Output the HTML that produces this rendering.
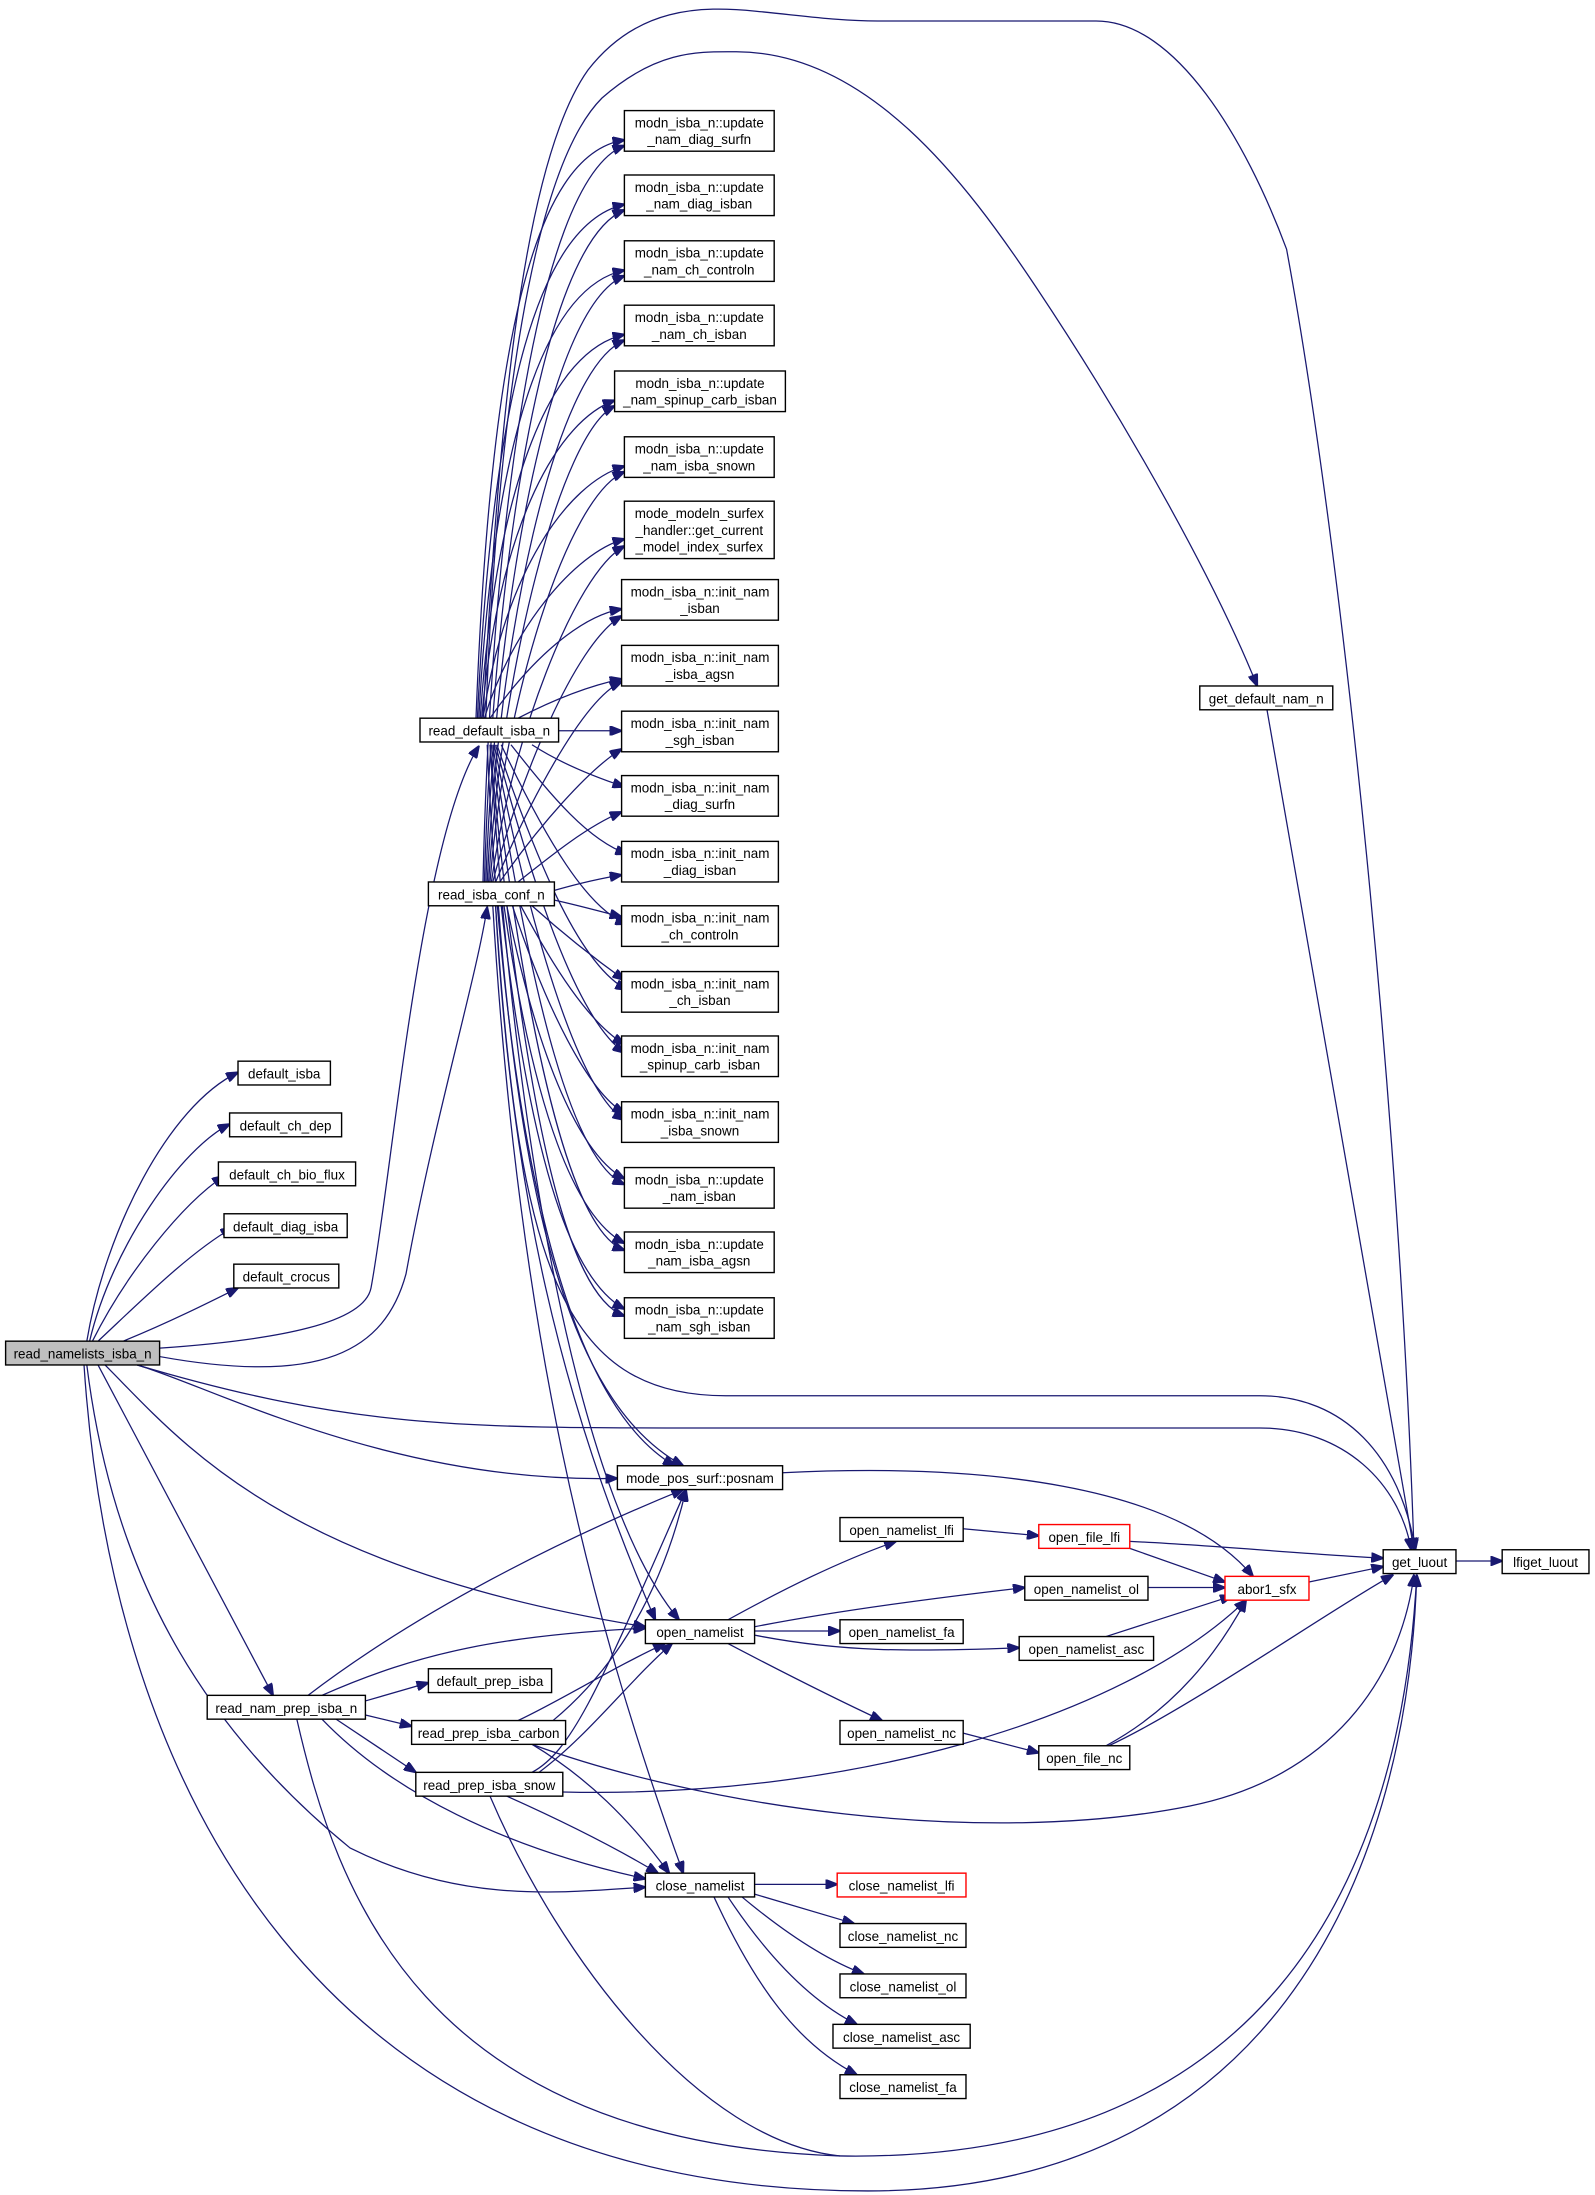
<!DOCTYPE html>
<html><head><meta charset="utf-8"><style>
html,body{margin:0;padding:0;background:#fff;}
svg{display:block;}
text{font-family:"Liberation Sans",Helvetica,Arial,sans-serif;font-size:9.6px;fill:#000;}
.b{fill:#fff;stroke:#000;stroke-width:1;}
.r{fill:#fff;stroke:#ff0000;stroke-width:1;}
.e{fill:none;stroke:#191970;stroke-width:0.9;}
</style></head><body>
<svg width="1595" height="2195" viewBox="0 0 1139.3 1567.9" xmlns="http://www.w3.org/2000/svg">
<defs><marker id="a" markerWidth="9" markerHeight="7" refX="8.5" refY="3.5" orient="auto" markerUnits="userSpaceOnUse"><path d="M0,0 L9,3.5 L0,7 z" fill="#191970" stroke="#191970"/></marker></defs>
<g class="e" marker-end="url(#a)">
<path d="M62,958 C75,880 120,790 170,766"/>
<path d="M64,958 C80,890 130,820 164,803"/>
<path d="M66,958 C90,910 130,860 160,840"/>
<path d="M70,958 C100,930 135,895 166,877"/>
<path d="M88,958 C120,945 150,930 170,920"/>
<path d="M114,963 C200,957 260,945 265,920 C280,840 300,600 342,533"/>
<path d="M114,969 C230,990 275,965 290,910 C310,800 340,700 348,648"/>
<path d="M98,975 C150,990 280,1060 441,1056"/>
<path d="M75,975 C130,1030 200,1120 461,1162"/>
<path d="M98,975 C250,1020 330,1020 500,1020 L900,1020 C960,1020 1000,1060 1008,1107"/>
<path d="M70,975 L195,1211"/>
<path d="M62,975 C80,1120 140,1230 250,1320 C330,1360 400,1352 461,1348"/>
<path d="M60,975 C80,1280 230,1565 620,1565 C900,1565 1005,1350 1012,1125"/>
<path d="M340,513 C350,250 380,110 446,100"/>
<path d="M341,513 C352,280 385,160 446,146"/>
<path d="M342,513 C353,310 390,205 446,193"/>
<path d="M343,513 C355,340 395,250 446,239"/>
<path d="M344,513 C357,370 400,300 439,286"/>
<path d="M345,513 C360,410 405,345 446,333"/>
<path d="M346,513 C365,450 410,395 446,385"/>
<path d="M350,513 C380,470 415,440 444,435"/>
<path d="M370,513 C395,500 420,490 444,485"/>
<path d="M399,522 L444,522"/>
<path d="M380,532 C400,545 425,555 446,562"/>
<path d="M365,532 C395,570 420,600 448,610"/>
<path d="M358,532 C390,600 420,650 448,660"/>
<path d="M355,532 C385,620 415,690 448,707"/>
<path d="M354,532 C385,650 415,730 446,752"/>
<path d="M353,532 C382,680 415,780 446,800"/>
<path d="M352,532 C380,720 410,830 446,846"/>
<path d="M351,532 C378,760 410,880 446,893"/>
<path d="M350,532 C375,800 405,925 446,940"/>
<path d="M348,532 C360,800 400,1000 482,1047"/>
<path d="M350,532 C370,850 420,1080 485,1157"/>
<path d="M345,513 C355,330 370,120 420,50 C455,5 500,4 540,8 C580,12 600,15 627,15 L783,15 C840,15 890,100 919,178 C960,400 1000,800 1010,1107"/>
<path d="M347,513 C355,300 380,120 430,70 C470,35 500,37 526,37 C620,37 690,130 740,205 C810,310 870,420 898,490"/>
<path d="M345,630 C350,400 380,130 446,104"/>
<path d="M346,630 C352,420 385,175 446,150"/>
<path d="M347,630 C354,440 390,220 446,197"/>
<path d="M348,630 C356,460 395,265 446,243"/>
<path d="M349,630 C358,480 400,310 439,290"/>
<path d="M350,630 C360,500 405,355 446,337"/>
<path d="M351,630 C365,530 410,410 446,390"/>
<path d="M352,630 C370,560 410,460 444,440"/>
<path d="M354,630 C375,580 415,500 444,487"/>
<path d="M357,630 C385,590 420,550 444,535"/>
<path d="M370,630 C395,610 420,590 444,580"/>
<path d="M396,636 C410,632 425,628 444,625"/>
<path d="M396,643 C410,646 425,650 444,655"/>
<path d="M380,647 C400,665 425,685 446,700"/>
<path d="M372,647 C395,690 420,730 446,746"/>
<path d="M366,647 C390,720 420,780 446,795"/>
<path d="M362,647 C385,760 415,825 446,842"/>
<path d="M360,647 C382,800 412,870 446,888"/>
<path d="M358,647 C380,840 410,915 446,935"/>
<path d="M356,647 C375,900 420,1010 488,1047"/>
<path d="M354,647 C365,850 400,1000 468,1157"/>
<path d="M352,647 C370,950 420,1150 488,1338"/>
<path d="M354,647 C370,900 400,998 520,997 L900,997 C960,997 1000,1040 1011,1107"/>
<path d="M559,1052 C700,1045 840,1060 895,1126"/>
<path d="M520,1157 C560,1135 600,1115 640,1101"/>
<path d="M539,1162 C600,1150 680,1140 732,1134"/>
<path d="M539,1165 L600,1165"/>
<path d="M539,1168 C600,1180 650,1180 728,1177"/>
<path d="M520,1174 C560,1195 600,1215 630,1229"/>
<path d="M688,1092 L742,1097"/>
<path d="M807,1101 C870,1104 930,1110 988,1113"/>
<path d="M807,1106 L875,1130"/>
<path d="M820,1134 L875,1134"/>
<path d="M790,1169 L880,1140"/>
<path d="M688,1238 L742,1252"/>
<path d="M790,1247 C840,1220 870,1180 890,1143"/>
<path d="M792,1247 C850,1220 950,1150 995,1125"/>
<path d="M935,1130 L988,1119"/>
<path d="M1040,1115 L1073,1115"/>
<path d="M539,1346 L598,1346"/>
<path d="M539,1353 L610,1374"/>
<path d="M530,1355 C560,1380 590,1400 617,1410"/>
<path d="M520,1355 C550,1400 580,1430 612,1446"/>
<path d="M510,1355 C540,1420 570,1460 612,1482"/>
<path d="M220,1211 C300,1150 400,1100 488,1064"/>
<path d="M230,1211 C300,1180 360,1168 461,1163"/>
<path d="M261,1215 L306,1202"/>
<path d="M261,1225 L294,1233"/>
<path d="M240,1228 L297,1266"/>
<path d="M230,1228 C280,1280 360,1320 461,1342"/>
<path d="M212,1228 C240,1350 300,1530 600,1540 C900,1545 1000,1350 1012,1125"/>
<path d="M395,1229 C430,1200 470,1150 490,1064"/>
<path d="M370,1229 C400,1215 440,1190 475,1174"/>
<path d="M380,1246 C420,1270 450,1300 478,1338"/>
<path d="M380,1246 C500,1290 700,1320 850,1290 C950,1270 1000,1200 1010,1125"/>
<path d="M380,1266 C410,1250 430,1200 490,1064"/>
<path d="M385,1266 C420,1240 450,1200 480,1174"/>
<path d="M362,1283 C400,1300 440,1320 470,1338"/>
<path d="M402,1280 C600,1285 800,1230 890,1143"/>
</g>
<path class="e" d="M350,1283 C400,1400 500,1530 600,1540"/>
<path class="e" marker-end="url(#a)" d="M905,507 L1010,1107"/>

<rect x="4" y="958" width="110" height="17" fill="#bfbfbf" stroke="#000"/><text x="59" y="970.5" text-anchor="middle">read_namelists_isba_n</text>
<rect class="b" x="170" y="758" width="66" height="17"/><text x="203" y="770.5" text-anchor="middle">default_isba</text>
<rect class="b" x="164" y="795" width="80" height="17"/><text x="204" y="807.5" text-anchor="middle">default_ch_dep</text>
<rect class="b" x="156" y="830" width="98" height="17"/><text x="205" y="842.5" text-anchor="middle">default_ch_bio_flux</text>
<rect class="b" x="160" y="867" width="88" height="17"/><text x="204" y="879.5" text-anchor="middle">default_diag_isba</text>
<rect class="b" x="167" y="903" width="75" height="17"/><text x="204.5" y="915.5" text-anchor="middle">default_crocus</text>
<rect class="b" x="300" y="513" width="99" height="17"/><text x="349.5" y="525.5" text-anchor="middle">read_default_isba_n</text>
<rect class="b" x="306" y="630" width="90" height="17"/><text x="351" y="642.5" text-anchor="middle">read_isba_conf_n</text>
<rect class="b" x="148" y="1211" width="113" height="17"/><text x="204.5" y="1223.5" text-anchor="middle">read_nam_prep_isba_n</text>
<rect class="b" x="306" y="1192" width="88" height="17"/><text x="350" y="1204.5" text-anchor="middle">default_prep_isba</text>
<rect class="b" x="294" y="1229" width="110" height="17"/><text x="349" y="1241.5" text-anchor="middle">read_prep_isba_carbon</text>
<rect class="b" x="297" y="1266" width="105" height="17"/><text x="349.5" y="1278.5" text-anchor="middle">read_prep_isba_snow</text>

<rect class="b" x="446" y="79" width="107" height="29"/><text x="499.5" y="91" text-anchor="middle">modn_isba_n::update</text><text x="499.5" y="103" text-anchor="middle">_nam_diag_surfn</text>
<rect class="b" x="446" y="125" width="107" height="29"/><text x="499.5" y="137" text-anchor="middle">modn_isba_n::update</text><text x="499.5" y="149" text-anchor="middle">_nam_diag_isban</text>
<rect class="b" x="446" y="172" width="107" height="29"/><text x="499.5" y="184" text-anchor="middle">modn_isba_n::update</text><text x="499.5" y="196" text-anchor="middle">_nam_ch_controln</text>
<rect class="b" x="446" y="218" width="107" height="29"/><text x="499.5" y="230" text-anchor="middle">modn_isba_n::update</text><text x="499.5" y="242" text-anchor="middle">_nam_ch_isban</text>
<rect class="b" x="439" y="265" width="122" height="29"/><text x="500" y="277" text-anchor="middle">modn_isba_n::update</text><text x="500" y="289" text-anchor="middle">_nam_spinup_carb_isban</text>
<rect class="b" x="446" y="312" width="107" height="29"/><text x="499.5" y="324" text-anchor="middle">modn_isba_n::update</text><text x="499.5" y="336" text-anchor="middle">_nam_isba_snown</text>
<rect class="b" x="446" y="358" width="107" height="41"/><text x="499.5" y="370" text-anchor="middle">mode_modeln_surfex</text><text x="499.5" y="382" text-anchor="middle">_handler::get_current</text><text x="499.5" y="394" text-anchor="middle">_model_index_surfex</text>
<rect class="b" x="444" y="414" width="112" height="29"/><text x="500" y="426" text-anchor="middle">modn_isba_n::init_nam</text><text x="500" y="438" text-anchor="middle">_isban</text>
<rect class="b" x="444" y="461" width="112" height="29"/><text x="500" y="473" text-anchor="middle">modn_isba_n::init_nam</text><text x="500" y="485" text-anchor="middle">_isba_agsn</text>
<rect class="b" x="444" y="508" width="112" height="29"/><text x="500" y="520" text-anchor="middle">modn_isba_n::init_nam</text><text x="500" y="532" text-anchor="middle">_sgh_isban</text>
<rect class="b" x="444" y="554" width="112" height="29"/><text x="500" y="566" text-anchor="middle">modn_isba_n::init_nam</text><text x="500" y="578" text-anchor="middle">_diag_surfn</text>
<rect class="b" x="444" y="601" width="112" height="29"/><text x="500" y="613" text-anchor="middle">modn_isba_n::init_nam</text><text x="500" y="625" text-anchor="middle">_diag_isban</text>
<rect class="b" x="444" y="647" width="112" height="29"/><text x="500" y="659" text-anchor="middle">modn_isba_n::init_nam</text><text x="500" y="671" text-anchor="middle">_ch_controln</text>
<rect class="b" x="444" y="694" width="112" height="29"/><text x="500" y="706" text-anchor="middle">modn_isba_n::init_nam</text><text x="500" y="718" text-anchor="middle">_ch_isban</text>
<rect class="b" x="444" y="740" width="112" height="29"/><text x="500" y="752" text-anchor="middle">modn_isba_n::init_nam</text><text x="500" y="764" text-anchor="middle">_spinup_carb_isban</text>
<rect class="b" x="444" y="787" width="112" height="29"/><text x="500" y="799" text-anchor="middle">modn_isba_n::init_nam</text><text x="500" y="811" text-anchor="middle">_isba_snown</text>
<rect class="b" x="446" y="834" width="107" height="29"/><text x="499.5" y="846" text-anchor="middle">modn_isba_n::update</text><text x="499.5" y="858" text-anchor="middle">_nam_isban</text>
<rect class="b" x="446" y="880" width="107" height="29"/><text x="499.5" y="892" text-anchor="middle">modn_isba_n::update</text><text x="499.5" y="904" text-anchor="middle">_nam_isba_agsn</text>
<rect class="b" x="446" y="927" width="107" height="29"/><text x="499.5" y="939" text-anchor="middle">modn_isba_n::update</text><text x="499.5" y="951" text-anchor="middle">_nam_sgh_isban</text>

<rect class="b" x="857" y="490" width="95" height="17"/><text x="904.5" y="502.5" text-anchor="middle">get_default_nam_n</text>
<rect class="b" x="441" y="1047" width="118" height="17"/><text x="500" y="1059.5" text-anchor="middle">mode_pos_surf::posnam</text>
<rect class="b" x="461" y="1157" width="78" height="17"/><text x="500" y="1169.5" text-anchor="middle">open_namelist</text>
<rect class="b" x="461" y="1338" width="78" height="17"/><text x="500" y="1350.5" text-anchor="middle">close_namelist</text>
<rect class="b" x="600" y="1084" width="88" height="17"/><text x="644" y="1096.5" text-anchor="middle">open_namelist_lfi</text>
<rect class="b" x="600" y="1157" width="88" height="17"/><text x="644" y="1169.5" text-anchor="middle">open_namelist_fa</text>
<rect class="b" x="600" y="1229" width="88" height="17"/><text x="644" y="1241.5" text-anchor="middle">open_namelist_nc</text>
<rect class="b" x="732" y="1126" width="88" height="17"/><text x="776" y="1138.5" text-anchor="middle">open_namelist_ol</text>
<rect class="b" x="728" y="1169" width="96" height="17"/><text x="776" y="1181.5" text-anchor="middle">open_namelist_asc</text>
<rect class="r" x="742" y="1089" width="65" height="17"/><text x="774.5" y="1101.5" text-anchor="middle">open_file_lfi</text>
<rect class="b" x="742" y="1247" width="65" height="17"/><text x="774.5" y="1259.5" text-anchor="middle">open_file_nc</text>
<rect class="r" x="875" y="1126" width="60" height="17"/><text x="905" y="1138.5" text-anchor="middle">abor1_sfx</text>
<rect class="b" x="988" y="1107" width="52" height="17"/><text x="1014" y="1119.5" text-anchor="middle">get_luout</text>
<rect class="b" x="1073" y="1107" width="62" height="17"/><text x="1104" y="1119.5" text-anchor="middle">lfiget_luout</text>
<rect class="r" x="598" y="1338" width="92" height="17"/><text x="644" y="1350.5" text-anchor="middle">close_namelist_lfi</text>
<rect class="b" x="600" y="1374" width="90" height="17"/><text x="645" y="1386.5" text-anchor="middle">close_namelist_nc</text>
<rect class="b" x="600" y="1410" width="90" height="17"/><text x="645" y="1422.5" text-anchor="middle">close_namelist_ol</text>
<rect class="b" x="595" y="1446" width="98" height="17"/><text x="644" y="1458.5" text-anchor="middle">close_namelist_asc</text>
<rect class="b" x="600" y="1482" width="90" height="17"/><text x="645" y="1494.5" text-anchor="middle">close_namelist_fa</text>
</svg>
</body></html>
